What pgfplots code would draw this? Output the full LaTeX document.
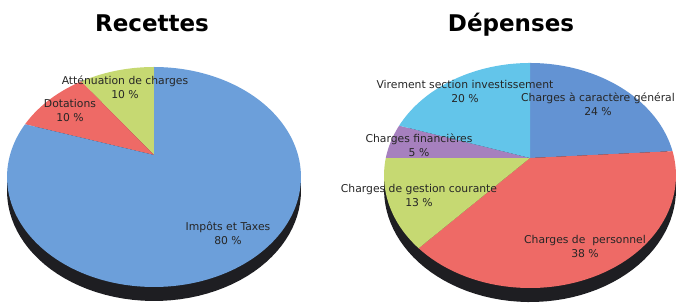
\documentclass[border=0pt]{standalone}
\usepackage{fontspec}
\setmainfont{DejaVu Sans}
\usepackage{pgfplots}
\pgfplotsset{compat=1.18}
\definecolor{lblue}{HTML}{6C9FDA}
\definecolor{rblue}{HTML}{6393D3}
\definecolor{pred}{HTML}{EE6A66}
\definecolor{pgreen}{HTML}{C6D972}
\definecolor{ppurple}{HTML}{A680BE}
\definecolor{pcyan}{HTML}{63C5EA}
\definecolor{pdark}{HTML}{1E1E22}
\definecolor{ptext}{HTML}{262626}
\begin{document}
\begin{tikzpicture}
% Recettes (percent)
\pgfmathsetmacro{\RA}{10} % Atténuation de charges
\pgfmathsetmacro{\RD}{10} % Dotations
\pgfmathsetmacro{\RI}{80} % Impôts et Taxes
% Dépenses (percent)
\pgfmathsetmacro{\DG}{24} % Charges à caractère général
\pgfmathsetmacro{\DP}{38} % Charges de personnel
\pgfmathsetmacro{\DC}{13} % Charges de gestion courante
\pgfmathsetmacro{\DF}{5}  % Charges financières
\pgfmathsetmacro{\DV}{20} % Virement section investissement
% sector boundary angles
\pgfmathsetmacro{\la}{90+3.6*\RA}
\pgfmathsetmacro{\lb}{\la+3.6*\RD}
\pgfmathsetmacro{\lc}{\lb+3.6*\RI}
\pgfmathsetmacro{\ra}{90-3.6*\DG}
\pgfmathsetmacro{\rb}{\ra-3.6*\DP}
\pgfmathsetmacro{\rc}{\rb-3.6*\DC}
\pgfmathsetmacro{\rd}{\rc-3.6*\DF}
\pgfmathsetmacro{\re}{\rd-3.6*\DV}
\begin{axis}[width=679pt,height=307pt,scale only axis,
  xmin=0,xmax=679,ymin=0,ymax=307,hide axis,clip=false]
% ---- left pie depth (perspective disc, apex (154,152))
\addplot[fill=pdark,draw=none,domain=0:360,samples=120]
  ({154+144*cos(x)/(1+0.2*sin(x))},{138+105.6*sin(x)/(1+0.2*sin(x))}) -- cycle;
\addplot[fill=pdark,draw=none] coordinates {(7,116) (301,116) (301,130.5) (7,130.5)} -- cycle;
% ---- left pie sectors
\addplot[fill=pgreen,draw=none,domain=90:\la,samples=30]
  ({154+144*cos(x)/(1+0.2*sin(x))},{152+105.6*sin(x)/(1+0.2*sin(x))}) -- (axis cs:154,152) -- cycle;
\addplot[fill=pred,draw=none,domain=\la:\lb,samples=30]
  ({154+144*cos(x)/(1+0.2*sin(x))},{152+105.6*sin(x)/(1+0.2*sin(x))}) -- (axis cs:154,152) -- cycle;
\addplot[fill=lblue,draw=none,domain=\lb:\lc,samples=150]
  ({154+144*cos(x)/(1+0.2*sin(x))},{152+105.6*sin(x)/(1+0.2*sin(x))}) -- (axis cs:154,152) -- cycle;
% ---- right pie depth (apex (530,149))
\addplot[fill=pdark,draw=none,domain=0:360,samples=120]
  ({530+144.2*cos(x)/(1+0.1556*sin(x))},{135+109.8*sin(x)/(1+0.1556*sin(x))}) -- cycle;
\addplot[fill=pdark,draw=none] coordinates {(384,117.5) (676,117.5) (676,132) (384,132)} -- cycle;
% ---- right pie sectors
\addplot[fill=rblue,draw=none,domain=\ra:90,samples=40]
  ({530+144.2*cos(x)/(1+0.1556*sin(x))},{149+109.8*sin(x)/(1+0.1556*sin(x))}) -- (axis cs:530,149) -- cycle;
\addplot[fill=pred,draw=none,domain=\rb:\ra,samples=60]
  ({530+144.2*cos(x)/(1+0.1556*sin(x))},{149+109.8*sin(x)/(1+0.1556*sin(x))}) -- (axis cs:530,149) -- cycle;
\addplot[fill=pgreen,draw=none,domain=\rc:\rb,samples=30]
  ({530+144.2*cos(x)/(1+0.1556*sin(x))},{149+109.8*sin(x)/(1+0.1556*sin(x))}) -- (axis cs:530,149) -- cycle;
\addplot[fill=ppurple,draw=none,domain=\rd:\rc,samples=20]
  ({530+144.2*cos(x)/(1+0.1556*sin(x))},{149+109.8*sin(x)/(1+0.1556*sin(x))}) -- (axis cs:530,149) -- cycle;
\addplot[fill=pcyan,draw=none,domain=\re:\rd,samples=40]
  ({530+144.2*cos(x)/(1+0.1556*sin(x))},{149+109.8*sin(x)/(1+0.1556*sin(x))}) -- (axis cs:530,149) -- cycle;
% ---- titles
\node[font=\fontsize{23}{27}\selectfont\bfseries,anchor=base] at (axis cs:152,275) {Recettes};
\node[font=\fontsize{23}{27}\selectfont\bfseries,anchor=base] at (axis cs:511,275) {Dépenses};
% ---- labels
\begin{scope}[every node/.style={font=\fontsize{10.8}{14}\selectfont,align=center,text=ptext,inner sep=0pt}]
\node at (axis cs:125,220) {Atténuation de charges\\10 \%};
\node at (axis cs:70,197) {Dotations\\10 \%};
\node at (axis cs:228,74) {Impôts et Taxes\\80 \%};
\node at (axis cs:465,216) {Virement section investissement\\20 \%};
\node at (axis cs:598,203) {Charges à caractère général\\24 \%};
\node at (axis cs:419,162) {Charges financières\\5 \%};
\node at (axis cs:419,112) {Charges de gestion courante\\13 \%};
\node at (axis cs:585,61) {Charges de\ \ personnel\\38 \%};
\end{scope}
\end{axis}
\useasboundingbox (0,0) rectangle (679pt,307pt);
\end{tikzpicture}
\end{document}
